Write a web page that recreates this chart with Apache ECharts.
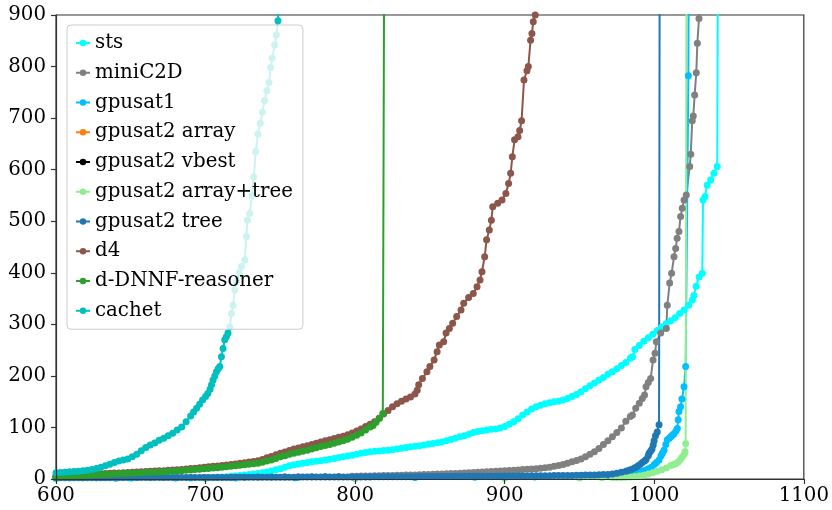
<!DOCTYPE html>
<html>
<head>
<meta charset="utf-8">
<script src="https://cdn.jsdelivr.net/npm/echarts/dist/echarts.min.js"></script>
<style>
  html, body { margin: 0; padding: 0; background: #ffffff; }
  #chart { width: 832px; height: 510px; }
</style>
</head>
<body>
<div id="chart"></div>
<script>
// Cactus plot: instances solved (x) against solving time (y), one line per solver.
const xTicks = [600, 700, 800, 900, 1000, 1100];
const yTicks = [0, 100, 200, 300, 400, 500, 600, 700, 800, 900];

const solverNames = ['sts', 'miniC2D', 'gpusat1', 'gpusat2 array', 'gpusat2 vbest',
  'gpusat2 array+tree', 'gpusat2 tree', 'd4', 'd-DNNF-reasoner', 'cachet'];

// [instances solved, time]
const stsPts = [
  [600,1],[650,1.5],[690,2],[699,2.5],[702,2.8],[705,3],[708,3.3],[711,3.7],[714,4.5],[717,5.2],
  [720,6],[723,7],[726,8],[729,8.7],[732,9.5],[735,10.5],[738,12],[741,13.5],[744,15.5],[747,18],
  [750,20],[753,23],[756,25.5],[759,27.5],[762,29],[765,30.5],[768,32],[771,33.5],[774,34.5],[777,35.5],
  [780,37],[783,38.5],[786,40],[789,41.5],[792,43],[795,44.5],[798,46],[801,48],[804,50],[807,51.5],
  [810,53],[813,54],[816,54.5],[819,55.5],[822,56],[825,56.5],[828,58],[831,59.5],[834,61],[837,62.5],
  [840,63.5],[843,64.5],[846,66],[849,67.5],[852,69],[855,70.5],[858,72],[861,74],[864,76.5],[867,79],
  [870,82],[873,84],[876,87],[879,90],[882,92],[885,93.5],[888,95],[891,96.5],[894,97],[897,99],
  [900,102],[903,106],[906,111],[909,117],[912,124],[915,130],[918,136],[921,140],[924,143],[927,146],
  [930,148],[933,150],[936,151],[939,153],[942,156],[945,160],[948,164],[951,169],[954,175],[957,181],
  [960,186],[963,192],[966,197],[969,203],[972,208],[975,214],[978,220],[981,226],[984,234],[985.5,237],
  [987,251],[990,259],[993,267],[996,274],[999,281],[1002,288],[1005,295],[1008,301],[1011,307],[1014,313],
  [1017,321],[1020,328],[1023,337],[1025.5,347],[1026.5,356],[1028,374],[1030,392],[1032.1,399],
  [1032.6,541],[1033.9,548],[1035.4,570],[1037.7,580],[1039.9,593],[1042.1,606],[1042.8,1200]
];

const miniC2DPts = [
  [600,2.5],[609,2.5],[618,2.5],[627,2.6],[636,2.6],[645,2.7],[654,2.8],[663,2.8],[672,2.9],[681,3],
  [690,3],[699,3],[708,3.2],[717,3.4],[726,3.6],[735,3.8],[744,4],[753,4.2],[762,4.4],[771,4.6],
  [780,4.8],[789,5],[798,5.3],[801,5.4],[804,5.6],[807,5.8],[810,6],[813,6.2],[816,6.4],[819,6.6],
  [822,6.8],[825,7],[828,7.2],[831,7.4],[834,7.6],[837,7.8],[840,8],[843,8.3],[846,8.6],[849,8.9],
  [852,9.2],[855,9.5],[858,9.8],[861,10.1],[864,10.5],[867,10.9],[870,11.3],[873,11.7],[876,12.1],[879,12.5],
  [882,13],[885,13.5],[888,14],[891,14.5],[894,15],[897,15.5],[900,16],[903,16.5],[906,17],[909,17.5],
  [912,18.5],[915,19],[918,19.5],[921,20],[924,21],[927,22],[930,23],[933,24.5],[936,26],[939,28],
  [942,30.5],[945,33.5],[948,36],[951,39],[954,43],[957,48],[960,53],[963,59],[966,67],[969,74],
  [972,82],[975,90],[978,99],[981,112],[984,121],[985.4,124],[987.6,137],[990,147],[992,156],[993.5,163],
  [994.5,179],[996,187],[997.6,195],[999.2,231],[1000.5,244],[1001.4,266],[1004.3,283],[1008.1,292],
  [1008.7,337],[1010.3,380],[1011.6,399],[1013.2,431],[1014.3,447],[1015.3,467],[1016.5,480],[1017.6,509],
  [1018.7,525],[1019.9,541],[1021.4,551],[1023.7,606],[1024.4,630],[1025.4,695],[1026.1,704],[1027,745],
  [1028.1,788],[1028.8,845],[1029.9,893],[1030.5,960]
];

const gpusat1Pts = [
  [600,1.5],[640,1.5],[680,2],[720,2],[760,2.5],[800,2.5],[840,3],[880,3.5],[920,4],[950,5],
  [970,7],[980,9],[984,10],[986,11],[988,12],[990,13],[992,15],[994,17],[996,20],[998,23],
  [1000,28],[1001.5,32],[1003.2,37],[1004.5,45],[1005.4,50],[1006.5,56],[1007.7,67],[1008.7,76],[1010,79],
  [1011,82],[1012,85],[1013.2,88],[1014.5,93],[1015.4,98],[1016,115],[1016.5,131],[1017.6,140],[1018.5,155],
  [1019.9,179],[1021,218],[1022.8,782],[1023.2,1200]
];

const gpusat2ArrayPts = [];
const gpusat2VbestPts = [];

const gpusat2ArrayTreePts = [
  [600,0.5],[700,0.8],[800,1],[900,1.5],[950,2],[965,2.5],[972,3],[975,3],[978,3],[981,3.5],
  [984,4],[987,5],[990,6],[993,7.5],[996,9.5],[999,12],[1002,15],[1005,18],[1008,21.5],[1011,26],
  [1013,28],[1014.5,30],[1016,33],[1017.5,38],[1018.8,43],[1020,48],[1020.6,53],[1021,69],[1021.7,1200]
];

const gpusat2TreePts = [
  [600,2.5],[603,2.5],[606,2.5],[609,2.5],[612,2.5],[615,2.5],[618,2.6],[621,2.6],[624,2.6],[627,2.6],
  [630,2.6],[633,2.6],[636,2.7],[639,2.7],[642,2.7],[645,2.7],[648,2.7],[651,2.7],[654,2.8],[657,2.8],
  [660,2.8],[663,2.8],[666,2.8],[669,2.8],[672,2.9],[675,2.9],[678,2.9],[681,2.9],[684,2.9],[687,2.9],
  [690,3],[693,3],[696,3],[699,3],[702,3],[705,3],[708,3],[711,3.1],[714,3.1],[717,3.1],
  [720,3.2],[723,3.2],[726,3.2],[729,3.3],[732,3.3],[735,3.3],[738,3.4],[741,3.4],[744,3.4],[747,3.5],
  [750,3.5],[753,3.5],[756,3.6],[759,3.6],[762,3.6],[765,3.7],[768,3.7],[771,3.7],[774,3.8],[777,3.8],
  [780,3.8],[783,3.9],[786,3.9],[789,3.9],[792,4],[795,4],[798,4],[801,4],[804,4],[807,4.1],
  [810,4.1],[813,4.2],[816,4.2],[819,4.3],[822,4.3],[825,4.4],[828,4.4],[831,4.5],[834,4.5],[837,4.6],
  [840,4.6],[843,4.7],[846,4.7],[849,4.8],[852,4.8],[855,4.9],[858,4.9],[861,5],[864,5],[867,5.1],
  [870,5.1],[873,5.2],[876,5.2],[879,5.3],[882,5.3],[885,5.4],[888,5.4],[891,5.5],[894,5.5],[897,5.5],
  [900,5.6],[903,5.6],[906,5.7],[909,5.8],[912,5.9],[915,6],[918,6.1],[921,6.2],[924,6.3],[927,6.4],
  [930,6.5],[933,6.6],[936,6.7],[939,6.8],[942,6.9],[945,7],[948,7.2],[951,7.4],[954,7.6],[957,7.8],
  [960,8],[963,8.3],[966,8.6],[969,8.9],[972,9.5],[975,11],[978,13],[981,15],[983,17],[985,19],
  [987,22],[989,25],[990.5,28],[992,32],[993.5,35],[994.5,38],[996,45],[996.5,50],[997.5,54],[998.5,58],
  [999.3,66],[999.9,74],[1000.8,84],[1002,91],[1003.2,105],[1003.7,1200]
];

const d4Pts = [
  [600,6.5],[603,6.8],[606,7.1],[609,7.5],[612,7.8],[615,8.2],[618,8.6],[621,9],[624,9.4],[627,9.8],
  [630,10.2],[633,10.6],[636,11],[639,11.4],[642,11.8],[645,12.3],[648,12.8],[651,13.2],[654,13.6],[657,14],
  [660,14.5],[663,15],[666,15.4],[669,15.8],[672,16.2],[675,16.8],[678,17.4],[681,18],[684,18.6],[687,19.5],
  [690,20.3],[693,21],[696,22],[699,22.8],[702,23.6],[705,24.5],[708,25.3],[711,26.2],[714,27.2],[717,28.2],
  [720,29.3],[723,30.5],[726,31.6],[729,32.8],[732,34],[735,35.5],[738,38],[741,41],[744,43.5],[747,47],
  [750,50],[753,52.5],[756,55.5],[759,58],[762,60],[765,62.5],[768,64.5],[771,67],[774,69.5],[777,72],
  [780,74],[783,76],[786,78.5],[789,81],[792,83],[795,86],[798,89],[801,93],[804,97],[807,102],
  [810,106],[813,111],[816,118],[819,126],[822,133],[825,140],[828,146],[831,151],[834,155],[837,159],
  [840,165],[841.5,172],[842.5,183],[845,195],[848,208],[850,218],[852.8,231],[854.8,247],[856.3,260],
  [859.2,266],[860.8,283],[863,292],[865.2,302],[867.9,315],[870.8,328],[872.6,341],[875.9,352],[879,360],
  [881.5,373],[883.5,386],[884.8,402],[886.6,431],[887.9,464],[889.7,483],[891.1,502],[892,528],[895.3,535],
  [898.2,541],[900.8,554],[902.6,573],[904,593],[905.1,625],[906.6,658],[908.9,664],[910,676],[911.3,695],
  [912.9,774],[914.9,792],[915.8,800],[917.3,851],[918.2,864],[919.1,887],[920.4,900],[921,950]
];

const dDNNFPts = [
  [600,5],[603,5.3],[606,5.6],[609,6],[612,6.3],[615,6.7],[618,7],[621,7.4],[624,7.8],[627,8.2],
  [630,8.5],[633,8.9],[636,9.3],[639,9.7],[642,10],[645,10.5],[648,11],[651,11.3],[654,11.7],[657,12],
  [660,12.5],[663,12.9],[666,13.3],[669,13.7],[672,14],[675,14.5],[678,15],[681,15.5],[684,16],[687,16.8],
  [690,17.5],[693,18.2],[696,19],[699,19.7],[702,20.5],[705,21.3],[708,22],[711,22.8],[714,23.6],[717,24.5],
  [720,25.5],[723,26.5],[726,27.5],[729,28.5],[732,29.5],[735,30.5],[738,32.5],[741,35],[744,37],[747,40],
  [750,43],[753,45],[756,48],[759,50],[762,52],[765,54],[768,56],[771,58],[774,60.5],[777,63],
  [780,65],[783,67],[786,69.5],[789,72],[792,74],[795,77],[798,81],[801,85],[804,89],[807,95],
  [810,101],[812,104],[814,110],[816.3,118],[818.5,127],[819.6,1200]
];

const cachetPts = [
  [600,12],[603,12.5],[606,13],[609,14],[612,14.5],[615,15],[618,16],[621,17],[624,18.5],[627,20.5],
  [630,23],[633,25.5],[636,28.5],[639,32],[642,35],[645,37],[648,39],[651,43],[654,48],[657,55],
  [660,61],[663,66],[666,70],[669,75],[672,79],[675,84],[678,88.5],[681,95],[684,101],[687,111],
  [690,122],[692,130],[694,137],[696,145],[698,153],[700,160],[701.5,166],[703,174],[704,183],[705,192],
  [706.2,200],[707.3,208],[708.4,214],[709.5,218],[710.6,237],[711.7,253],[712.8,270],[713.9,276],[715,283],
  [716.2,295],[717.3,321],[718.4,337],[719.5,367],[720.6,383],[722.5,400],[724,412],[726.2,425],[727.3,470],
  [728,502],[729.5,515],[731,550],[732.2,586],[733.5,635],[735,669],[736.6,690],[738,712],[739.5,734],
  [741,753],[742.4,769],[743.5,798],[744.6,816],[746.2,842],[747.3,861],[748.4,889],[749.5,960]
];

const solverData = [stsPts, miniC2DPts, gpusat1Pts, gpusat2ArrayPts, gpusat2VbestPts,
  gpusat2ArrayTreePts, gpusat2TreePts, d4Pts, dDNNFPts, cachetPts];

const solverColors = ['#00ffff', '#808080', '#00bfff', '#ff7f0e', '#000000',
  '#90ee90', '#1f77b4', '#8c564b', '#2ca02c', '#00bfbf'];

const FONT = '"DejaVu Serif", serif';
const FONT_SIZE = 19.8;

const chart = echarts.init(document.getElementById('chart'), null, { renderer: 'canvas' });

const series = solverNames.map((name, i) => ({
  name: name,
  type: 'line',
  data: solverData[i],
  symbol: 'circle',
  symbolSize: 7,
  showSymbol: true,
  clip: true,
  color: solverColors[i],
  itemStyle: { color: solverColors[i] },
  lineStyle: { color: solverColors[i], width: 2 },
  emphasis: { disabled: true },
  animation: false
}));

chart.setOption({
  backgroundColor: '#ffffff',
  animation: false,
  grid: {
    left: 56, right: 27, top: 15, bottom: 31,
    show: true, borderColor: '#333333', borderWidth: 1.2, backgroundColor: '#ffffff'
  },
  xAxis: {
    type: 'value',
    min: xTicks[0], max: xTicks[xTicks.length - 1], interval: xTicks[1] - xTicks[0],
    z: 5,
    axisLine: { onZero: false, lineStyle: { color: '#333333', width: 1.2 } },
    axisTick: { show: true, length: 5, lineStyle: { color: '#333333', width: 1.2 } },
    axisLabel: { color: '#000000', fontFamily: FONT, fontSize: FONT_SIZE, margin: 7,
      formatter: (v) => String(v) },
    splitLine: { show: false }
  },
  yAxis: {
    type: 'value',
    min: yTicks[0], max: yTicks[yTicks.length - 1], interval: yTicks[1] - yTicks[0],
    z: 5,
    axisLine: { show: true, lineStyle: { color: '#333333', width: 1.2 } },
    axisTick: { show: true, length: 5, lineStyle: { color: '#333333', width: 1.2 } },
    axisLabel: { color: '#000000', fontFamily: FONT, fontSize: FONT_SIZE, margin: 10,
      formatter: (v) => String(v) },
    splitLine: { show: false }
  },
  legend: {
    show: true,
    orient: 'vertical',
    left: 67, top: 25,
    data: solverNames,
    itemWidth: 14, itemHeight: 8, itemGap: 9.75,
    padding: [8, 10, 8.5, 8],
    backgroundColor: 'rgba(255,255,255,0.8)',
    borderColor: '#cccccc', borderWidth: 1, borderRadius: 4,
    selectedMode: false,
    textStyle: { color: '#000000', fontFamily: FONT, fontSize: FONT_SIZE }
  },
  series: series
});
</script>
</body>
</html>
